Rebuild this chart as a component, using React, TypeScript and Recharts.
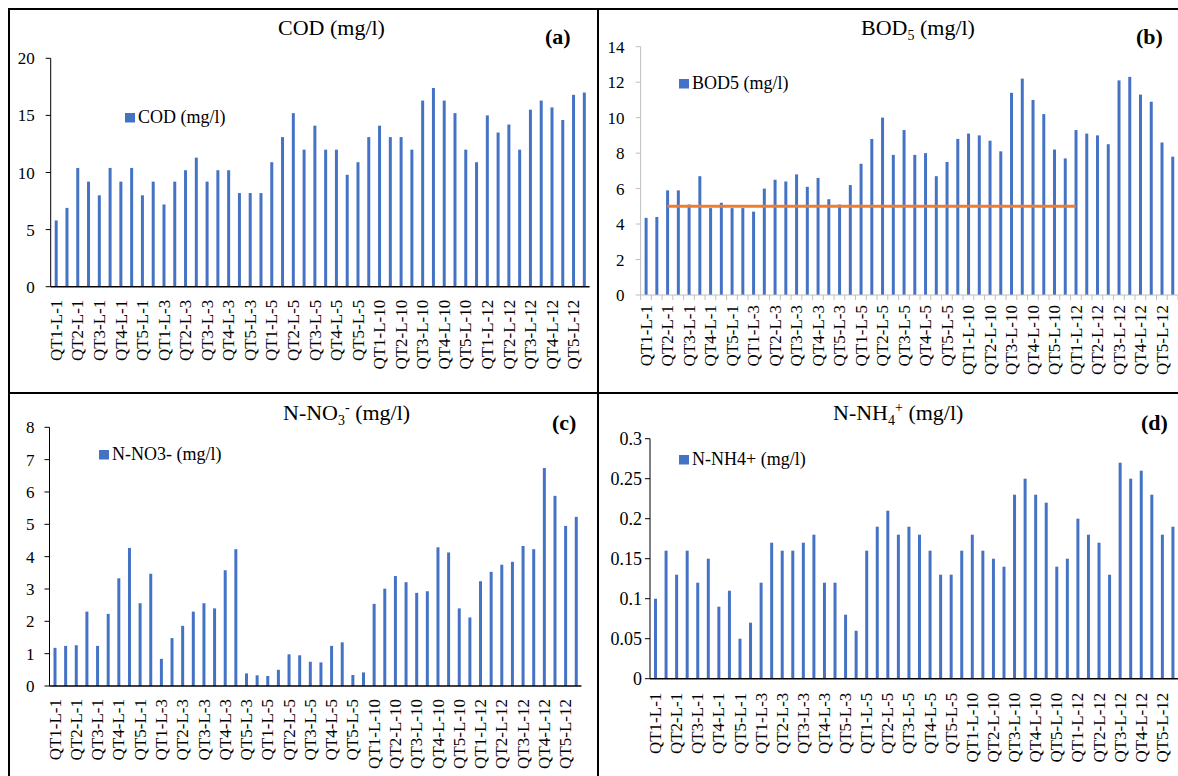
import React from "react";
import { ComposedChart, Bar, Line, XAxis, YAxis } from "recharts";

const FONT = '"Liberation Serif", "Times New Roman", Times, serif';
const BLUE = "#4472C4";
const ORANGE = "#ED7D31";

// sampling points: every other one is labelled on the axis
const categories = [
  "QT1-L-1", "QT1-L-2", "QT2-L-1", "QT2-L-2", "QT3-L-1", "QT3-L-2", "QT4-L-1", "QT4-L-2", "QT5-L-1", "QT5-L-2",
  "QT1-L-3", "QT1-L-4", "QT2-L-3", "QT2-L-4", "QT3-L-3", "QT3-L-4", "QT4-L-3", "QT4-L-4", "QT5-L-3", "QT5-L-4",
  "QT1-L-5", "QT1-L-6", "QT2-L-5", "QT2-L-6", "QT3-L-5", "QT3-L-6", "QT4-L-5", "QT4-L-6", "QT5-L-5", "QT5-L-6",
  "QT1-L-10", "QT1-L-11", "QT2-L-10", "QT2-L-11", "QT3-L-10", "QT3-L-11", "QT4-L-10", "QT4-L-11", "QT5-L-10", "QT5-L-11",
  "QT1-L-12", "QT1-L-13", "QT2-L-12", "QT2-L-13", "QT3-L-12", "QT3-L-13", "QT4-L-12", "QT4-L-13", "QT5-L-12", "QT5-L-13",
];

const codValues = [
  5.8, 6.9, 10.4, 9.2, 8.0, 10.4, 9.2, 10.4, 8.0, 9.2,
  7.2, 9.2, 10.2, 11.3, 9.2, 10.2, 10.2, 8.2, 8.2, 8.2,
  10.9, 13.1, 15.2, 12.0, 14.1, 12.0, 12.0, 9.8, 10.9, 13.1,
  14.1, 13.1, 13.1, 12.0, 16.3, 17.4, 16.3, 15.2, 12.0, 10.9,
  15.0, 13.5, 14.2, 12.0, 15.5, 16.3, 15.7, 14.6, 16.8, 17.0,
];

const bod5Values = [
  4.35, 4.4, 5.9, 5.9, 5.1, 6.7, 4.9, 5.2, 4.9, 4.9,
  4.7, 6.0, 6.5, 6.4, 6.8, 6.1, 6.6, 5.4, 5.1, 6.2,
  7.4, 8.8, 10.0, 7.9, 9.3, 7.9, 8.0, 6.7, 7.5, 8.8,
  9.1, 9.0, 8.7, 8.1, 11.4, 12.2, 11.0, 10.2, 8.2, 7.7,
  9.3, 9.1, 9.0, 8.5, 12.1, 12.3, 11.3, 10.9, 8.6, 7.8,
];

// orange reference line in panel (b)
const bod5Limit = [
  null, null, 5, 5, 5, 5, 5, 5, 5, 5,
  5, 5, 5, 5, 5, 5, 5, 5, 5, 5,
  5, 5, 5, 5, 5, 5, 5, 5, 5, 5,
  5, 5, 5, 5, 5, 5, 5, 5, 5, 5,
  5, null, null, null, null, null, null, null, null, null,
];

const no3Values = [
  1.18, 1.24, 1.26, 2.3, 1.24, 2.23, 3.33, 4.27, 2.56, 3.47,
  0.84, 1.48, 1.86, 2.3, 2.56, 2.4, 3.58, 4.23, 0.39, 0.33,
  0.31, 0.5, 0.98, 0.95, 0.75, 0.73, 1.24, 1.35, 0.34, 0.42,
  2.54, 3.01, 3.4, 3.21, 2.88, 2.93, 4.29, 4.13, 2.4, 2.12,
  3.24, 3.53, 3.75, 3.84, 4.33, 4.23, 6.74, 5.88, 4.95, 5.23,
];

const nh4Values = [
  0.1, 0.16, 0.13, 0.16, 0.12, 0.15, 0.09, 0.11, 0.05, 0.07,
  0.12, 0.17, 0.16, 0.16, 0.17, 0.18, 0.12, 0.12, 0.08, 0.06,
  0.16, 0.19, 0.21, 0.18, 0.19, 0.18, 0.16, 0.13, 0.13, 0.16,
  0.18, 0.16, 0.15, 0.14, 0.23, 0.25, 0.23, 0.22, 0.14, 0.15,
  0.2, 0.18, 0.17, 0.13, 0.27, 0.25, 0.26, 0.23, 0.18, 0.19,
];

const codTicks = [0, 5, 10, 15, 20];
const bod5Ticks = [0, 2, 4, 6, 8, 10, 12, 14];
const no3Ticks = [0, 1, 2, 3, 4, 5, 6, 7, 8];
const nh4Ticks = [0, 0.05, 0.1, 0.15, 0.2, 0.25, 0.3];

const codData = categories.map((name, i) => ({ name, value: codValues[i] }));
const bod5Data = categories.map((name, i) => ({ name, value: bod5Values[i], limit: bod5Limit[i] }));
const no3Data = categories.map((name, i) => ({ name, value: no3Values[i] }));
const nh4Data = categories.map((name, i) => ({ name, value: nh4Values[i] }));

const CategoryTick = (props: any) => {
  const { x, y, payload, index, band, gap, marks, color } = props;
  const ty = y + gap;
  return (
    <g>
      {marks && <line x1={x - band / 2} x2={x - band / 2} y1={y} y2={y + 5} stroke={color} />}
      {marks && index === categories.length - 1 && (
        <line x1={x + band / 2} x2={x + band / 2} y1={y} y2={y + 5} stroke={color} />
      )}
      {index % 2 === 0 && (
        <text
          x={x}
          y={ty}
          dy="0.34em"
          transform={`rotate(-90, ${x}, ${ty})`}
          textAnchor="end"
          fontSize={17}
          fontFamily={FONT}
          fill="#000"
        >
          {payload.value}
        </text>
      )}
    </g>
  );
};

const Panel = ({ cfg }: { cfg: any }) => {
  const { box, plot } = cfg;
  const band = (plot.right - plot.left) / categories.length;
  const axisColor = cfg.axisColor;
  return (
    <div style={{ position: "absolute", left: box.left, top: box.top }}>
      <ComposedChart
        width={box.width}
        height={box.height}
        data={cfg.data}
        margin={{
          top: plot.top - box.top,
          right: box.left + box.width - plot.right,
          bottom: 0,
          left: 0,
        }}
      >
        <XAxis
          dataKey="name"
          interval={0}
          height={box.top + box.height - plot.bottom}
          tickLine={false}
          tickSize={0}
          tickMargin={0}
          axisLine={{ stroke: axisColor, strokeWidth: cfg.xAxisWidth }}
          tick={(p: any) => (
            <CategoryTick {...p} band={band} gap={cfg.labelGap} marks={cfg.marks} color={axisColor} />
          )}
        />
        <YAxis
          type="number"
          width={plot.left - box.left}
          domain={cfg.domain}
          ticks={cfg.ticks}
          interval={0}
          tickSize={5}
          tickMargin={cfg.yTickMargin}
          tickLine={{ stroke: axisColor }}
          axisLine={{ stroke: axisColor }}
          tick={{ fill: "#000", fontSize: cfg.yFont, fontFamily: FONT }}
        />
        <Bar dataKey="value" fill={BLUE} barSize={3} isAnimationActive={false} />
        {cfg.withLimit && (
          <Line
            dataKey="limit"
            stroke={ORANGE}
            strokeWidth={3}
            dot={false}
            activeDot={false}
            connectNulls={false}
            isAnimationActive={false}
          />
        )}
      </ComposedChart>
    </div>
  );
};

const panels = [
  {
    data: codData,
    box: { left: 10, top: 10, width: 587, height: 382 },
    plot: { left: 50.7, right: 589.6, top: 58.3, bottom: 286.7 },
    domain: [0, 20],
    ticks: codTicks,
    axisColor: "#000",
    xAxisWidth: 1.5,
    yTickMargin: 11,
    yFont: 17,
    labelGap: 13,
    marks: false,
  },
  {
    data: bod5Data,
    box: { left: 599, top: 10, width: 579, height: 382 },
    plot: { left: 640.6, right: 1178, top: 46.7, bottom: 295 },
    domain: [0, 14],
    ticks: bod5Ticks,
    axisColor: "#BFBFBF",
    xAxisWidth: 1,
    yTickMargin: 11,
    yFont: 17,
    labelGap: 10,
    marks: true,
    withLimit: true,
  },
  {
    data: no3Data,
    box: { left: 10, top: 394, width: 587, height: 382 },
    plot: { left: 49.5, right: 581.4, top: 427.3, bottom: 686 },
    domain: [0, 8],
    ticks: no3Ticks,
    axisColor: "#000",
    xAxisWidth: 1.5,
    yTickMargin: 10,
    yFont: 17,
    labelGap: 13,
    marks: false,
  },
  {
    data: nh4Data,
    box: { left: 599, top: 394, width: 579, height: 382 },
    plot: { left: 650, right: 1178, top: 438.7, bottom: 678.7 },
    domain: [0, 0.3],
    ticks: nh4Ticks,
    axisColor: "#000",
    xAxisWidth: 1.5,
    yTickMargin: 3,
    yFont: 18,
    labelGap: 14,
    marks: false,
  },
];

const legends = [
  { x: 125, y: 113, label: "COD (mg/l)" },
  { x: 679, y: 79, label: "BOD5 (mg/l)" },
  { x: 99, y: 450, label: "N-NO3- (mg/l)" },
  { x: 679, y: 455, label: "N-NH4+ (mg/l)" },
];

const letters = [
  { x: 545, y: 44, label: "(a)" },
  { x: 1136, y: 44, label: "(b)" },
  { x: 552, y: 430, label: "(c)" },
  { x: 1141, y: 430, label: "(d)" },
];

const line = (style: React.CSSProperties) => (
  <div style={{ position: "absolute", background: "#000", ...style }} />
);

export default function App() {
  return (
    <div
      style={{
        position: "absolute",
        left: 0,
        top: 0,
        width: 1178,
        height: 776,
        overflow: "hidden",
        background: "#fff",
      }}
    >
      {panels.map((cfg, i) => (
        <Panel key={i} cfg={cfg} />
      ))}

      {/* frame around the four panels */}
      {line({ left: 8, top: 8, width: 1170, height: 2 })}
      {line({ left: 8, top: 8, width: 2, height: 768 })}
      {line({ left: 597, top: 8, width: 2, height: 768 })}
      {line({ left: 8, top: 392, width: 1170, height: 2 })}

      <svg
        width={1178}
        height={776}
        style={{ position: "absolute", left: 0, top: 0, pointerEvents: "none" }}
      >
        <g fontFamily={FONT} fill="#000">
          <text x={278} y={35} fontSize={22}>COD (mg/l)</text>
          <text x={861} y={34.5} fontSize={22}>
            BOD<tspan fontSize={14} dy={5}>5</tspan>
            <tspan dy={-5}> (mg/l)</tspan>
          </text>
          <text x={283} y={419.5} fontSize={22}>
            N-NO<tspan fontSize={14} dy={5}>3</tspan>
            <tspan fontSize={14} dy={-13}>-</tspan>
            <tspan dy={8}> (mg/l)</tspan>
          </text>
          <text x={833} y={419.5} fontSize={22}>
            N-NH<tspan fontSize={14} dy={5}>4</tspan>
            <tspan fontSize={14} dy={-13}>+</tspan>
            <tspan dy={8}> (mg/l)</tspan>
          </text>

          {letters.map((l) => (
            <text key={l.label} x={l.x} y={l.y} fontSize={22} fontWeight="bold">
              {l.label}
            </text>
          ))}

          {legends.map((l) => (
            <g key={l.label}>
              <rect x={l.x} y={l.y} width={10} height={9.5} fill={BLUE} />
              <text x={l.x + 13} y={l.y + 9.5} fontSize={18}>
                {l.label}
              </text>
            </g>
          ))}
        </g>
      </svg>
    </div>
  );
}
